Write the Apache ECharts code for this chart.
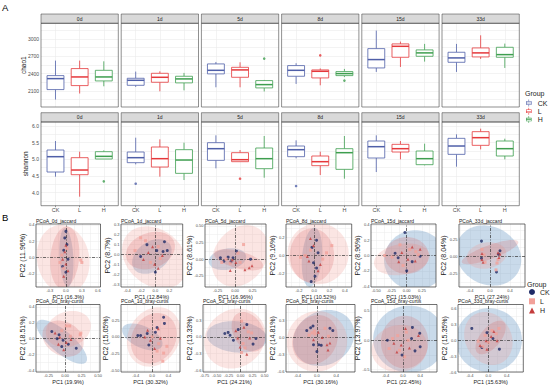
<!DOCTYPE html>
<html><head><meta charset="utf-8">
<script src="https://cdn.jsdelivr.net/npm/echarts@6/dist/echarts.min.js"></script>
<style>html,body{margin:0;padding:0;background:#fff}#c{width:550px;height:386px}</style>
</head><body><div id="c"></div>
<script>
// ---------------- DATA ----------------
const groups = ['CK', 'L', 'H'];
const days = ['0d', '1d', '5d', '8d', '15d', '33d'];

// box statistics per day: [lower whisker, Q1, median, Q3, upper whisker]
const chao1CK = [[1950,2123,2313,2365,2625],[2169,2197,2284,2319,2435],[2163,2395,2457,2568,2602],[2221,2354,2457,2539,2580],[2429,2498,2643,2833,3146],[2429,2596,2672,2770,2915]];
const chao1L  = [[2055,2192,2342,2487,2625],[2093,2250,2336,2405,2440],[2163,2336,2464,2509,2596],[2197,2325,2440,2464,2490],[2515,2683,2873,2915,2955],[2654,2689,2759,2845,3064]];
const chao1H  = [[2180,2273,2342,2457,2613],[2110,2239,2308,2354,2412],[2090,2152,2209,2279,2290],[2340,2365,2400,2435,2481],[2608,2700,2759,2811,2915],[2498,2683,2729,2856,2920]];
const chao1Outliers = [[2,2,2660],[3,1,2717],[3,2,2279]]; // [day index, group index, value]
const chao1Ticks = [2100, 2400, 2700, 3000];

const shannonCK = [[4.48,4.62,5.08,5.28,5.55],[4.85,4.90,5.05,5.22,5.65],[4.73,4.97,5.32,5.50,5.72],[5.03,5.08,5.29,5.40,5.57],[4.62,5.04,5.38,5.55,5.72],[4.78,5.15,5.40,5.63,5.75]];
const shannonL  = [[3.88,4.54,4.68,5.05,5.23],[4.48,4.77,5.02,5.37,5.60],[4.93,4.93,4.99,5.20,5.28],[4.53,4.81,4.93,5.10,5.23],[5.00,5.22,5.32,5.45,5.55],[5.30,5.42,5.65,5.83,5.92]];
const shannonH  = [[5.01,5.01,5.09,5.23,5.27],[4.38,4.58,4.98,5.29,5.50],[4.45,4.72,5.02,5.34,5.70],[4.42,4.70,5.20,5.32,5.70],[4.82,4.84,5.02,5.25,5.47],[5.00,5.10,5.32,5.55,5.62]];
const shannonOutliers = [[0,2,4.34],[1,0,4.27],[2,1,4.42],[3,0,4.20]];
const shannonTicks = [4.0, 4.5, 5.0, 5.5, 6.0];

// PCoA panels
const pcoaTitles = ['PCoA_0d_jaccard','PCoA_1d_jaccard','PCoA_5d_jaccard','PCoA_8d_jaccard','PCoA_15d_jaccard','PCoA_33d_jaccard',
  'PCoA_0d_bray-curtis','PCoA_1d_bray-curtis','PCoA_5d_bray-curtis','PCoA_8d_bray-curtis','PCoA_15d_bray-curtis','PCoA_33d_bray-curtis'];
const pc1Labels = ['PC1 (16.3%)','PC1 (12.84%)','PC1 (16.96%)','PC1 (10.52%)','PC1 (15.03%)','PC1 (27.24%)',
  'PC1 (19.9%)','PC1 (30.32%)','PC1 (24.21%)','PC1 (30.16%)','PC1 (22.45%)','PC1 (15.63%)'];
const pc2Labels = ['PC2 (11.96%)','PC2 (8.7%)','PC2 (8.61%)','PC2 (9.16%)','PC2 (8.96%)','PC2 (8.04%)',
  'PC2 (18.51%)','PC2 (15.05%)','PC2 (13.33%)','PC2 (14.81%)','PC2 (13.97%)','PC2 (15.35%)'];
const pcoaXMin = [-0.56,-0.49,-0.43,-0.37,-0.585,-0.62,-0.44,-0.76,-0.785,-0.64,-0.74,-0.66];
const pcoaXMax = [0.65,0.39,0.44,0.49,0.48,0.70,0.53,0.68,0.53,0.79,0.79,0.76];
const pcoaYMin = [-0.36,-0.33,-0.42,-0.35,-0.41,-0.45,-0.42,-0.52,-0.63,-0.61,-0.54,-0.60];
const pcoaYMax = [0.41,0.31,0.53,0.35,0.41,0.47,0.43,0.48,0.58,0.58,0.61,0.67];
const pcoaXTicks = [[-0.3,0,0.3,0.6],[-0.4,-0.2,0,0.2],[-0.25,0,0.25],[-0.2,0,0.2,0.4],[-0.5,-0.25,0,0.25],[-0.4,0,0.4],
  [-0.25,0,0.25,0.5],[-0.4,0,0.4],[-0.75,-0.5,-0.25,0,0.25,0.5],[-0.4,0,0.4],[-0.4,0,0.4],[-0.4,0,0.4]];
const pcoaYTicks = [[-0.2,0,0.2,0.4],[-0.3,-0.2,-0.1,0,0.1,0.2,0.3],[-0.25,0,0.25,0.5],[-0.2,0,0.2],[-0.4,-0.2,0,0.2,0.4],[-0.25,0,0.25],
  [-0.4,-0.2,0,0.2,0.4],[-0.5,-0.25,0,0.25],[-0.6,-0.3,0,0.3],[-0.6,-0.3,0,0.3],[-0.5,0,0.5],[-0.6,-0.3,0,0.3,0.6]];

// ellipses per panel: [cx, cy, rx (x units), ry (y units), rotation deg]
const ellipseCK = [[0.01,0.0,0.13,0.36,3],[-0.05,-0.02,0.31,0.15,35],[-0.11,0.0,0.27,0.16,10],[-0.03,-0.02,0.13,0.33,-5],[0.14,-0.06,0.51,0.39,0],[-0.03,0.01,0.68,0.42,-30],
  [-0.05,-0.04,0.48,0.14,-40],[-0.24,0.0,0.53,0.16,-25],[-0.08,0.0,0.63,0.28,-5],[0.14,-0.01,0.66,0.47,30],[0.15,0.02,0.84,0.57,0],[0.01,0.0,0.72,0.60,0]];
const ellipseL = [[-0.05,-0.02,0.49,0.42,10],[-0.01,-0.03,0.51,0.28,-40],[0.07,0.05,0.47,0.39,55],[0.05,0.02,0.40,0.34,-20],[-0.08,-0.05,0.46,0.20,10],[-0.07,0.01,0.40,0.19,10],
  [0.05,0.12,0.35,0.22,20],[0.04,0.0,0.62,0.46,-30],[-0.12,-0.03,0.67,0.51,40],[0.0,-0.07,0.62,0.54,-45],[-0.08,-0.14,0.65,0.40,10],[0.0,0.03,0.50,0.52,30]];
const ellipseH = [[-0.02,0.0,0.27,0.38,-5],[-0.07,0.04,0.36,0.18,20],[0.05,-0.01,0.36,0.13,-15],[-0.03,0.0,0.29,0.30,0],[0.0,0.0,0.36,0.24,0],[0.0,0.06,0.60,0.10,20],
  [-0.03,0.0,0.33,0.21,-30],[0.04,-0.02,0.53,0.39,-30],[0.16,0.09,0.31,0.38,30],[-0.04,-0.04,0.45,0.45,-30],[0.04,-0.03,0.55,0.45,0],[0.05,0.05,0.44,0.19,50]];

const pointsCK = [
  [[0,0.32],[-0.02,0.24],[0.02,0.16],[-0.04,0.09],[0.04,-0.02],[-0.06,-0.11],[0,-0.18]],
  [[0.13,0.13],[0.11,0.03],[0.02,0.04],[-0.12,0.10],[0,-0.18],[-0.21,-0.02],[0.17,0.04]],
  [[-0.21,0.02],[-0.16,-0.03],[-0.1,0.03],[-0.06,-0.04],[-0.03,0.02],[0.22,0],[0.02,0.12]],
  [[0.03,0.17],[-0.03,0.09],[0.05,0.03],[-0.01,-0.08],[0.03,-0.14],[0.01,-0.23],[-0.04,-0.29]],
  [[-0.03,0.30],[-0.19,0.03],[0,-0.2],[-0.14,-0.03],[0.22,-0.01],[0.09,-0.08]],
  [[-0.17,0.22],[0.13,-0.23],[-0.17,-0.03],[0.17,0.03],[0.2,0.08]],
  [[-0.2,0.09],[-0.09,0.05],[-0.12,0],[-0.03,-0.02],[0.05,-0.07],[0.17,-0.12],[-0.05,-0.1]],
  [[-0.28,0.02],[-0.12,0.05],[0.3,0.2],[0.12,0.14],[-0.08,-0.12],[0.28,0.29],[0.08,0.07],[-0.35,0.02]],
  [[-0.33,0.06],[-0.26,0.08],[-0.22,0.03],[-0.15,-0.06],[-0.05,0.13],[0.13,0.22],[0.26,-0.13],[0.32,-0.03]],
  [[-0.21,0.12],[-0.13,0.17],[-0.08,0.2],[0.27,0.16],[0.33,0.12],[-0.07,-0.13],[0.04,-0.13],[0,-0.25],[0.09,-0.14]],
  [[0.22,0.22],[-0.36,0],[0.4,-0.11],[0.28,-0.18],[-0.02,-0.25],[0.2,0.03],[0.39,0.12]],
  [[-0.36,0.22],[0.24,-0.17],[-0.03,0.14],[-0.14,-0.14],[0.1,0.03]]];
const pointsL = [
  [[0.28,-0.03],[0.30,-0.06],[-0.075,0.03],[-0.04,-0.13],[-0.11,-0.06],[0.02,0.11]],
  [[-0.21,0.17],[-0.14,0.14],[-0.07,-0.08],[0.07,-0.04],[-0.29,0.04],[0.04,0.08]],
  [[0.12,0.22],[-0.07,-0.06],[-0.13,0],[0.04,0.09],[-0.19,-0.05],[0.07,-0.05]],
  [[0.23,0.11],[0.11,-0.04],[-0.12,0],[-0.18,-0.02],[0.16,0.03],[-0.05,0.06]],
  [[-0.11,0.14],[0.05,0.08],[0.15,0.05],[-0.24,-0.02],[-0.06,-0.13],[0.19,0.01],[-0.36,0]],
  [[0.16,-0.05],[-0.16,0.1],[-0.1,-0.09],[0.14,-0.1],[-0.12,0.02],[0.12,-0.2]],
  [[0.02,0.16],[0.07,0.16],[0.23,0.05],[0.24,0.07],[-0.05,0.1],[0.08,0.03]],
  [[0.16,-0.1],[0.36,-0.14],[0.28,-0.24],[0.26,-0.36],[0.12,-0.21],[0,0]],
  [[0.02,0.28],[0.16,0.09],[0.23,0.07],[0.05,-0.12],[0.02,-0.28],[0.09,-0.2]],
  [[-0.04,0.06],[-0.1,0.08],[0.24,0.02],[-0.16,0.04],[-0.05,0.11],[0.17,0.16]],
  [[-0.24,0.03],[-0.12,0.08],[0.08,0.14],[0.12,0],[-0.08,-0.17],[-0.32,-0.14],[0.04,-0.28]],
  [[-0.22,-0.02],[-0.07,0.09],[0.08,0.18],[0.17,0.12],[0,-0.04],[-0.12,-0.12],[0.23,0.22]]];
const pointsH = [
  [[-0.02,0.07],[-0.06,-0.02],[0,-0.08],[0.04,-0.16],[-0.04,-0.23],[0,0.15]],
  [[-0.01,-0.10],[-0.1,0.02],[0.1,-0.01],[-0.17,-0.05],[-0.04,0.08],[0.04,-0.14]],
  [[0.2,-0.13],[0.14,-0.16],[-0.07,-0.17],[0.01,-0.05],[0.24,-0.1],[-0.04,-0.01]],
  [[-0.05,0.19],[-0.09,-0.01],[0.08,-0.1],[0.05,-0.17],[-0.07,-0.06],[-0.01,0.11]],
  [[0.09,0.11],[-0.08,0.04],[0.02,-0.05],[0.14,-0.07],[0.22,0.08],[-0.13,-0.08]],
  [[0.2,0.03],[0.16,0.05],[-0.14,-0.09],[-0.16,-0.05],[0.18,-0.02],[-0.16,0.04]],
  [[-0.15,0.07],[-0.08,0.02],[0.02,-0.05],[-0.1,-0.07],[0.09,-0.01],[-0.02,-0.14]],
  [[-0.18,0],[-0.04,-0.05],[0.2,-0.02],[0.06,-0.17],[-0.11,0.1],[0.15,0.12]],
  [[-0.06,-0.02],[0.07,0.17],[0.19,-0.02],[-0.01,-0.18],[-0.1,0.11],[0.13,-0.31]],
  [[0.27,-0.1],[0.21,-0.13],[0.11,0],[-0.07,-0.04],[0.23,-0.22],[0.03,0.09]],
  [[0.36,0.08],[-0.04,-0.08],[-0.21,-0.05],[0.15,-0.13],[0.06,0.2],[-0.14,-0.2]],
  [[-0.18,-0.1],[-0.05,-0.01],[0.06,0.07],[0.12,0.16],[-0.03,-0.17],[0.19,-0.01]]];

// ---------------- STYLE / LAYOUT ----------------
const FONT = '"Liberation Sans", Arial, sans-serif';
const boxColor = ['#4F5FA8', '#E5383B', '#3E9E4F'];
const ptColor = ['#1E2A66', '#F2A19A', '#C43C3C'];
const ellFill = ['rgba(100,150,195,0.35)', 'rgba(240,155,145,0.26)', 'rgba(215,95,95,0.22)'];
const ptSymbol = ['circle', 'rect', 'triangle'];
const GRIDC = '#EBEBEB';
const TICKC = '#4D4D4D';

const aLeft0 = 41, aStep = 80.2, aW = 77.3;
const aRows = [{strip: 14, top: 23.3, bottom: 107}, {strip: 112.7, top: 122, bottom: 205.7}];
const R1T = 224, R1B = 287, R2T = 304.5, R2B = 372;
const pcoaRects = [
  [36,R1T,100.5,R1B],[121,R1T,182.7,R1B],[205,R1T,266,R1B],[286,R1T,351.7,R1B],[371,R1T,436,R1B],[459,R1T,525,R1B],
  [36,R2T,100,R2B],[121,R2T,180,R2B],[203,R2T,266,R2B],[286,R2T,355,R2B],[371,R2T,437,R2B],[458,R2T,523.3,R2B]];
const TICKFS = 4;
const YNAMEFS = 7;

function decimals(arr) {
  let d = 0;
  arr.forEach(v => { const s = String(v); const i = s.indexOf('.'); if (i >= 0) d = Math.max(d, s.length - i - 1); });
  return d;
}
function gridVals(ticks, min, max) {
  const h = (ticks[1] - ticks[0]) / 2;
  const out = [];
  for (let k = Math.ceil(min / h - 1e-9); k * h <= max + 1e-9; k++) out.push(+(k * h).toFixed(6));
  return out;
}
function labelWidth(strs, fs) {
  let w = 0;
  strs.forEach(s => {
    let t = 0;
    for (const ch of s) t += ch === '.' ? 0.278 : ch === '-' ? 0.333 : 0.556;
    w = Math.max(w, t * fs);
  });
  return w;
}

const grid = [], xAxis = [], yAxis = [], series = [], graphic = [];

function boxRender(params, api) {
  const x = api.value(0);
  const pLo = api.coord([x, api.value(1)]), pQ1 = api.coord([x, api.value(2)]), pMed = api.coord([x, api.value(3)]);
  const pQ3 = api.coord([x, api.value(4)]), pHi = api.coord([x, api.value(5)]);
  const hw = api.size([0.7, 0])[0] / 2;
  const color = api.visual('color');
  return {type: 'group', children: [
    {type: 'line', shape: {x1: pLo[0], y1: pLo[1], x2: pQ1[0], y2: pQ1[1]}, style: {stroke: color, lineWidth: 0.8}},
    {type: 'line', shape: {x1: pQ3[0], y1: pQ3[1], x2: pHi[0], y2: pHi[1]}, style: {stroke: color, lineWidth: 0.8}},
    {type: 'rect', shape: {x: pQ1[0] - hw, y: pQ3[1], width: 2 * hw, height: pQ1[1] - pQ3[1]}, style: {fill: '#fff', stroke: color, lineWidth: 0.8}},
    {type: 'line', shape: {x1: pMed[0] - hw, y1: pMed[1], x2: pMed[0] + hw, y2: pMed[1]}, style: {stroke: color, lineWidth: 1.5}}
  ]};
}
function ellRender(params, api) {
  const c = api.coord([api.value(0), api.value(1)]);
  const s = api.size([api.value(2), api.value(3)]);
  const a = api.value(4) * Math.PI / 180;
  const pts = [];
  for (let i = 0; i < 96; i++) {
    const t = i / 96 * Math.PI * 2;
    const ex = s[0] * Math.cos(t), ey = s[1] * Math.sin(t);
    pts.push([c[0] + ex * Math.cos(a) - ey * Math.sin(a), c[1] - (ex * Math.sin(a) + ey * Math.cos(a))]);
  }
  return {type: 'polygon', shape: {points: pts}, style: {fill: api.visual('color'), stroke: 'none'}};
}

// ----- Section A : boxplots -----
const metrics = [
  {name: 'chao1', stats: [chao1CK, chao1L, chao1H], out: chao1Outliers, ticks: chao1Ticks, min: 1821, max: 3272, gap: 14},
  {name: 'shannon', stats: [shannonCK, shannonL, shannonH], out: shannonOutliers, ticks: shannonTicks, min: 3.61, max: 6.12, gap: 12}
];
metrics.forEach((m, r) => {
  const row = aRows[r];
  const dec = m.name === 'shannon' ? 1 : 0;
  days.forEach((d, c) => {
    const left = aLeft0 + c * aStep;
    const gi = grid.length;
    grid.push({left: left, top: row.top, width: aW, height: row.bottom - row.top, show: false});
    const bottomRow = r === 1;
    xAxis.push({type: 'value', gridIndex: gi, min: 0.4, max: 3.6,
      axisLine: {show: false},
      axisTick: {show: bottomRow, customValues: [1, 2, 3], length: 1.5, lineStyle: {color: '#333', width: 0.5}},
      axisLabel: {show: bottomRow, customValues: [1, 2, 3], formatter: v => groups[Math.round(v) - 1], fontSize: 5.5, color: TICKC, margin: 1.5, fontFamily: FONT},
      splitLine: {show: true, lineStyle: {color: GRIDC, width: 0.6}}});
    yAxis.push({type: 'value', gridIndex: gi, min: m.min, max: m.max,
      axisLine: {show: false},
      axisTick: {show: false, customValues: gridVals(m.ticks, m.min, m.max)},
      axisLabel: {show: c === 0, customValues: m.ticks, formatter: v => (+v).toFixed(dec), fontSize: 5, color: TICKC, margin: 2, fontFamily: FONT},
      splitLine: {show: true, lineStyle: {color: GRIDC, width: 0.6}},
      name: c === 0 ? m.name : '', nameLocation: 'middle', nameGap: m.gap, nameMoveOverlap: false,
      nameTextStyle: {fontSize: 6.5, color: '#1a1a1a', fontFamily: FONT}});
    groups.forEach((g, k) => {
      series.push({type: 'custom', name: g, xAxisIndex: gi, yAxisIndex: gi, renderItem: boxRender,
        itemStyle: {color: boxColor[k]}, encode: {x: 0, y: [1, 2, 3, 4, 5]},
        data: [[k + 1].concat(m.stats[k][c])], silent: true, z: 3});
      const pts = m.out.filter(o => o[0] === c && o[1] === k).map(o => [k + 1, o[2]]);
      if (pts.length) series.push({type: 'scatter', name: g, xAxisIndex: gi, yAxisIndex: gi, data: pts,
        symbolSize: 2.6, itemStyle: {color: boxColor[k]}, silent: true, z: 4});
    });
    graphic.push({type: 'rect', shape: {x: left, y: row.strip, width: aW, height: row.top - row.strip},
      style: {fill: '#D9D9D9', stroke: '#333', lineWidth: 0.5}, z: 100, silent: true});
    graphic.push({type: 'text', x: left + aW / 2, y: (row.strip + row.top) / 2,
      style: {text: d, fontSize: 5, fontFamily: FONT, fill: '#1a1a1a', align: 'center', verticalAlign: 'middle'}, z: 101, silent: true});
    graphic.push({type: 'rect', shape: {x: left, y: row.top, width: aW, height: row.bottom - row.top},
      style: {fill: 'none', stroke: '#444', lineWidth: 0.6}, z: 100, silent: true});
  });
});

// ----- Section B : PCoA -----
pcoaTitles.forEach((title, i) => {
  const [x1, y1, x2, y2] = pcoaRects[i];
  const gi = grid.length;
  grid.push({left: x1, top: y1, width: x2 - x1, height: y2 - y1, show: false});
  const xt = pcoaXTicks[i], yt = pcoaYTicks[i];
  const xd = decimals(xt), yd = decimals(yt);
  const yLabW = labelWidth(yt.map(v => v.toFixed(yd)), TICKFS);
  xAxis.push({type: 'value', gridIndex: gi, min: pcoaXMin[i], max: pcoaXMax[i],
    axisLine: {show: false},
    axisTick: {show: false, customValues: gridVals(xt, pcoaXMin[i], pcoaXMax[i])},
    axisLabel: {customValues: xt, formatter: v => (+v).toFixed(xd), fontSize: TICKFS, color: TICKC, margin: 1.5, fontFamily: FONT},
    splitLine: {show: true, lineStyle: {color: GRIDC, width: 0.5}},
    name: pc1Labels[i], nameLocation: 'middle', nameGap: 6.5, nameMoveOverlap: false,
    nameTextStyle: {fontSize: 5.5, color: '#1a1a1a', fontFamily: FONT}});
  yAxis.push({type: 'value', gridIndex: gi, min: pcoaYMin[i], max: pcoaYMax[i],
    axisLine: {show: false},
    axisTick: {show: false, customValues: gridVals(yt, pcoaYMin[i], pcoaYMax[i])},
    axisLabel: {customValues: yt, formatter: v => (+v).toFixed(yd), fontSize: TICKFS, color: TICKC, margin: 1.5, fontFamily: FONT},
    splitLine: {show: true, lineStyle: {color: GRIDC, width: 0.5}},
    name: pc2Labels[i], nameLocation: 'middle', nameGap: yLabW + 2.8, nameMoveOverlap: false,
    nameTextStyle: {fontSize: YNAMEFS, color: '#1a1a1a', fontFamily: FONT}});
  const ells = [ellipseCK, ellipseL, ellipseH];
  const pts = [pointsCK, pointsL, pointsH];
  groups.forEach((g, k) => {
    series.push({type: 'custom', name: g, xAxisIndex: gi, yAxisIndex: gi, renderItem: ellRender, clip: true,
      itemStyle: {color: ellFill[k]}, encode: {x: 0, y: 1}, data: [ells[k][i]], silent: true, z: 2});
  });
  groups.forEach((g, k) => {
    const s = {type: 'scatter', name: g, xAxisIndex: gi, yAxisIndex: gi, data: pts[k][i],
      symbol: ptSymbol[k], symbolSize: 3, itemStyle: {color: ptColor[k]}, silent: true, z: 5};
    if (k === 0) {
      s.markLine = {silent: true, symbol: 'none', label: {show: false}, animation: false,
        lineStyle: {color: '#333', type: [3, 1.5, 1, 1.5], width: 0.7},
        data: [{xAxis: 0}, {yAxis: 0}]};
    }
    series.push(s);
  });
  graphic.push({type: 'rect', shape: {x: x1, y: y1, width: x2 - x1, height: y2 - y1},
    style: {fill: 'none', stroke: '#333', lineWidth: 0.7}, z: 100, silent: true});
  graphic.push({type: 'text', x: x1, y: y1 - 0.6, style: {text: title, fontSize: 5, fontFamily: FONT, fill: '#1a1a1a', align: 'left', verticalAlign: 'bottom'}, z: 101, silent: true});
});

// panel letters and legend titles
graphic.push({type: 'text', x: 2, y: 7, style: {text: 'A', fontSize: 9.5, fontFamily: FONT, fill: '#000', align: 'left', verticalAlign: 'middle'}, z: 101});
graphic.push({type: 'text', x: 2, y: 217, style: {text: 'B', fontSize: 9.5, fontFamily: FONT, fill: '#000', align: 'left', verticalAlign: 'middle'}, z: 101});
graphic.push({type: 'text', x: 525, y: 93, style: {text: 'Group', fontSize: 7, fontFamily: FONT, fill: '#1a1a1a', align: 'left', verticalAlign: 'middle'}, z: 101});
graphic.push({type: 'text', x: 527, y: 284, style: {text: 'Group', fontSize: 7, fontFamily: FONT, fill: '#1a1a1a', align: 'left', verticalAlign: 'middle'}, z: 101});

const BOX_ICON = 'path://M4.6,0H5.4V2.5H4.6Z M4.6,7.5H5.4V10H4.6Z M1,2.5H9V3.3H1Z M1,6.7H9V7.5H1Z M1,2.5H1.8V7.5H1Z M8.2,2.5H9V7.5H8.2Z M1,4.6H9V5.4H1Z';

const option = {
  animation: false,
  backgroundColor: '#fff',
  textStyle: {fontFamily: FONT},
  grid: grid, xAxis: xAxis, yAxis: yAxis, series: series,
  graphic: {elements: graphic},
  legend: [
    {left: 526, top: 99.5, orient: 'vertical', padding: 0, itemWidth: 8, itemHeight: 7, itemGap: 1.3, selectedMode: false,
      textStyle: {fontSize: 7, color: '#1a1a1a', fontFamily: FONT, lineHeight: 7},
      data: groups.map((g, k) => ({name: g, icon: BOX_ICON, itemStyle: {color: boxColor[k], borderWidth: 0}}))},
    {left: 529, top: 288.5, orient: 'vertical', padding: 0, itemWidth: 6, itemHeight: 6, itemGap: 2.3, selectedMode: false,
      textStyle: {fontSize: 7, color: '#1a1a1a', fontFamily: FONT, lineHeight: 6},
      data: groups.map((g, k) => ({name: g, icon: ptSymbol[k], itemStyle: {color: ptColor[k], borderWidth: 0}}))}
  ]
};
const chart = echarts.init(document.getElementById('c'), null, {renderer: 'svg'});
chart.setOption(option);
</script>
</body></html>
